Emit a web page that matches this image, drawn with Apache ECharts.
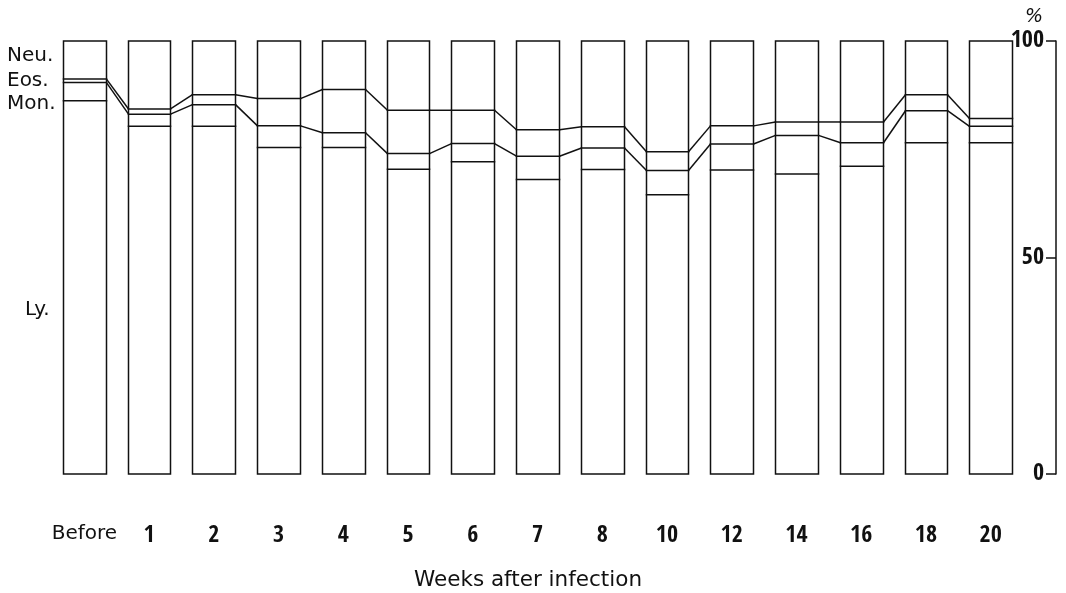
<!DOCTYPE html>
<html><head><meta charset="utf-8">
<script src="https://cdn.jsdelivr.net/npm/echarts@6/dist/echarts.min.js"></script>
<style>html,body{margin:0;padding:0;background:#fff}#c{width:1066px;height:593px}</style>
</head><body><div id="c"></div>
<script>
// Categories (weeks after infection)
const categories = ['Before','1','2','3','4','5','6','7','8','10','12','14','16','18','20'];
// Percentages of each cell type (stack order bottom -> top)
const ly  = [86.2, 80.3, 80.3, 75.4, 75.4, 70.4, 72.1, 68.0, 70.3, 64.5, 70.2, 69.3, 71.1, 76.5, 76.5];
const mon = [4.2, 2.8, 5.0, 5.0, 3.4, 3.6, 4.2, 5.4, 5.0, 5.6, 6.0, 8.9, 5.4, 7.4, 3.8];
const eos = [0.8, 1.2, 2.3, 6.3, 10.0, 10.0, 7.7, 6.1, 4.9, 4.3, 4.2, 3.1, 4.8, 3.7, 1.8];
const neu = [8.8, 15.7, 12.4, 13.3, 11.2, 16.0, 16.0, 20.5, 19.8, 25.6, 19.6, 18.7, 18.7, 12.4, 17.9];
const seriesNames = ['Ly.', 'Mon.', 'Eos.', 'Neu.'];
const yTicks = [0, 50, 100];
const xTitle = 'Weeks after infection';
const yUnit = '%';

const BAR_RATIO = 0.66;
const INK = '#111';
const LW = 1.5;
const NARROW = "'Open Sans Condensed','Roboto Condensed','DejaVu Sans Condensed',sans-serif";
const SANS = "'DejaVu Sans','Liberation Sans',sans-serif";

// cumulative boundaries
const cLyTop = ly.slice();
const cMonTop = ly.map((v, i) => v + mon[i]);
const cEosTop = ly.map((v, i) => v + mon[i] + eos[i]);
const cAll = ly.map((v, i) => v + mon[i] + eos[i] + neu[i]);
const frameData = categories.map((c, i) => [i, cLyTop[i], cMonTop[i], cEosTop[i], cAll[i]]);
const linkData = [];
for (let i = 0; i < categories.length - 1; i++) {
  linkData.push([i, cMonTop[i], cMonTop[i + 1], cEosTop[i], cEosTop[i + 1]]);
}

const chart = echarts.init(document.getElementById('c'), null, {renderer: 'canvas'});
const mkBar = (name, data) => ({
  name, type: 'bar', stack: 'all', data, barWidth: (BAR_RATIO * 100) + '%',
  itemStyle: {color: '#fff', borderWidth: 0}, emphasis: {disabled: true}, silent: true
});
const lineStyle = {stroke: INK, lineWidth: LW, lineCap: 'square'};

chart.setOption({
  animation: false,
  backgroundColor: '#fff',
  grid: {left: 52, right: 43, top: 41, bottom: 119},
  xAxis: {
    type: 'category', data: categories,
    axisLine: {show: false}, axisTick: {show: false},
    axisLabel: {
      margin: 50, interval: 0,
      formatter: v => (isNaN(Number(v)) ? '{w|' + v + '}' : '{n|' + v + '}'),
      rich: {
        w: {fontFamily: SANS, fontSize: 20, color: INK},
        n: {fontFamily: NARROW, fontSize: 24, fontWeight: 'bold', color: INK}
      }
    }
  },
  yAxis: {
    type: 'value', position: 'right', offset: 33,
    min: yTicks[0], max: yTicks[yTicks.length - 1], interval: yTicks[1] - yTicks[0],
    name: yUnit, nameLocation: 'end', nameGap: 14,
    nameTextStyle: {fontFamily: SANS, fontStyle: 'italic', fontSize: 19, color: INK, align: 'right', padding: [0, 13, 0, 0]},
    axisLine: {show: true, lineStyle: {color: INK, width: LW}},
    axisTick: {show: true, inside: true, length: 10, lineStyle: {color: INK, width: LW}},
    axisLabel: {inside: true, margin: 12, fontFamily: NARROW, fontSize: 24, fontWeight: 'bold', color: INK},
    splitLine: {show: false}
  },
  graphic: [
    {type: 'text', left: 7, top: 46, style: {text: seriesNames[3], font: '20px ' + SANS, fill: INK}},
    {type: 'text', left: 7, top: 71, style: {text: seriesNames[2], font: '20px ' + SANS, fill: INK}},
    {type: 'text', left: 7, top: 94, style: {text: seriesNames[1], font: '20px ' + SANS, fill: INK}},
    {type: 'text', left: 25, top: 300, style: {text: seriesNames[0], font: '20px ' + SANS, fill: INK}},
    {type: 'text', x: 528, y: 580, style: {text: xTitle, font: '21.5px ' + SANS, fill: INK, textAlign: 'center', textVerticalAlign: 'middle'}}
  ],
  series: [
    mkBar(seriesNames[0], ly),
    mkBar(seriesNames[1], mon),
    mkBar(seriesNames[2], eos),
    mkBar(seriesNames[3], neu),
    {
      type: 'custom', data: frameData, z: 5, silent: true,
      encode: {x: 0, y: [1, 2, 3, 4]},
      renderItem: function (params, api) {
        const i = api.value(0);
        const half = api.size([1, 0])[0] * BAR_RATIO / 2;
        const bottom = api.coord([i, 0]);
        const top = api.coord([i, api.value(4)]);
        const x0 = Math.round(bottom[0] - half) + 0.5, x1 = Math.round(bottom[0] + half) + 0.5;
        const children = [{type: 'rect', shape: {x: x0, y: top[1], width: x1 - x0, height: bottom[1] - top[1]},
                            style: {fill: null, stroke: INK, lineWidth: LW}}];
        [1, 2, 3].forEach(d => {
          const p = api.coord([i, api.value(d)]);
          children.push({type: 'line', shape: {x1: x0, y1: p[1], x2: x1, y2: p[1]}, style: lineStyle});
        });
        return {type: 'group', children};
      }
    },
    {
      type: 'custom', data: linkData, z: 5, silent: true,
      encode: {x: 0, y: [1, 2, 3, 4]},
      renderItem: function (params, api) {
        const i = api.value(0);
        const half = api.size([1, 0])[0] * BAR_RATIO / 2;
        const children = [[1, 2], [3, 4]].map(([a, b]) => {
          const p0 = api.coord([i, api.value(a)]);
          const p1 = api.coord([i + 1, api.value(b)]);
          return {type: 'line', shape: {x1: Math.round(p0[0] + half) + 0.5, y1: p0[1], x2: Math.round(p1[0] - half) + 0.5, y2: p1[1]},
                  style: {stroke: INK, lineWidth: LW}};
        });
        return {type: 'group', children};
      }
    }
  ]
});
</script></body></html>
